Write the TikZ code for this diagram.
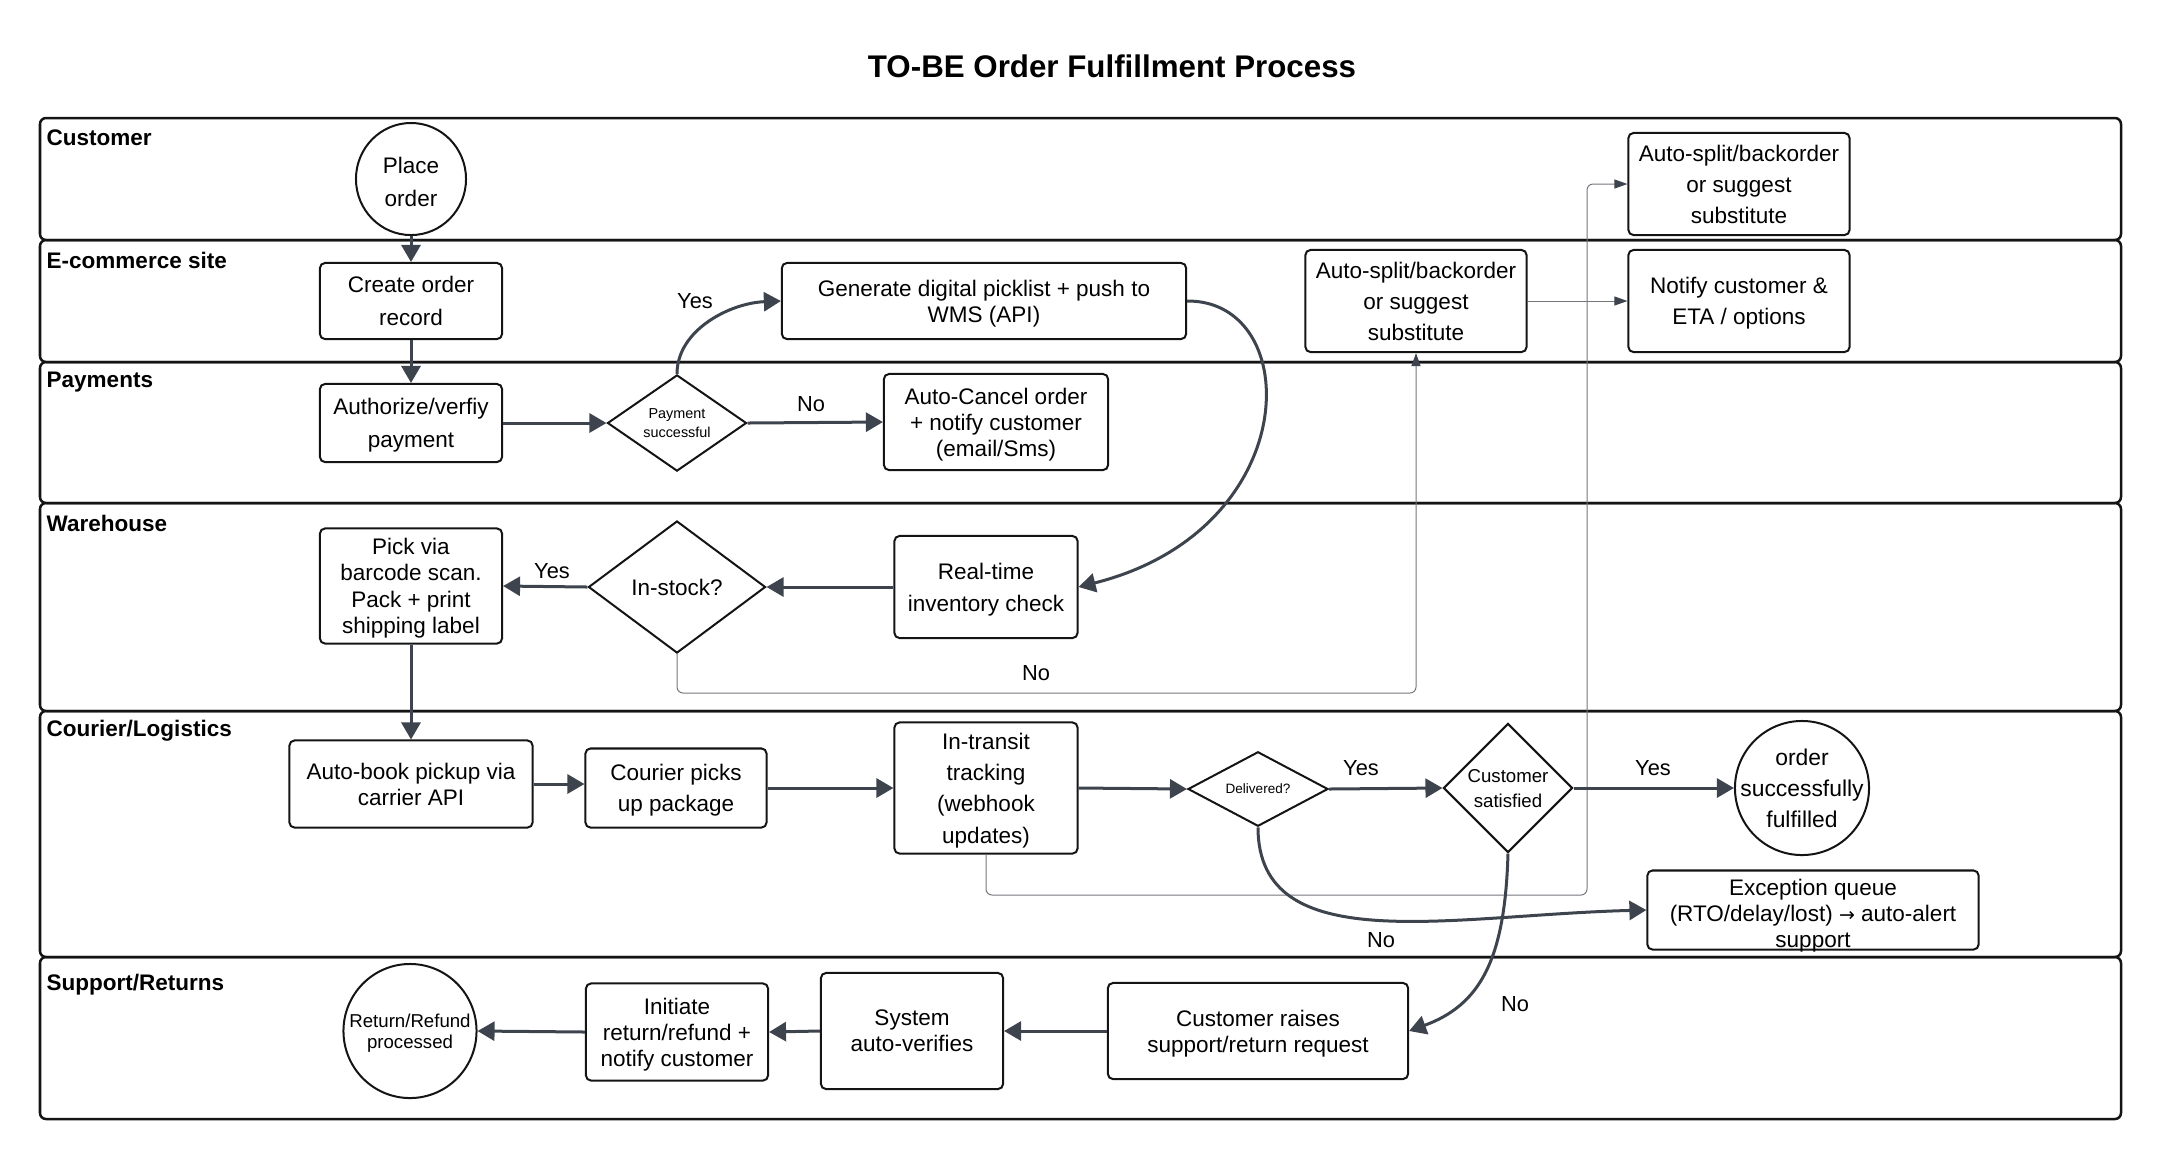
\documentclass[tikz,border=0pt]{standalone}
\usepackage{fontspec}
\setmainfont{Liberation Sans}
\newfontfamily\symf{DejaVu Sans}
\usetikzlibrary{arrows.meta,shapes.geometric}
\newcommand\fsz[2]{\fontsize{#1}{#2}\selectfont}
\definecolor{arrc}{RGB}{62,68,78}
\definecolor{thinc}{RGB}{115,118,124}
\definecolor{edgec}{RGB}{20,20,20}
\tikzset{
  box/.style={draw=edgec, line width=0.02cm, rounded corners=0.05cm, align=center, inner sep=0pt, fill=white, text depth=-1.5pt},
  lane/.style={draw=edgec, line width=0.025cm, rounded corners=0.06cm},
  arr/.style={draw=arrc, line width=0.03cm, -{Triangle[length=0.17cm,width=0.19cm]}},
  tarr/.style={draw=thinc, line width=0.01cm, rounded corners=0.06cm, -{Triangle[length=0.13cm,width=0.09cm,color=arrc]}},
  dia/.style={diamond, draw=edgec, line width=0.02cm, inner sep=0pt, align=center, fill=white, text depth=-1pt},
  ell/.style={ellipse, draw=edgec, line width=0.02cm, inner sep=0pt, fill=white},
  lbl/.style={font=\fsz{6.2}{7}, inner sep=1pt},
  lanelbl/.style={font=\bfseries\fsz{6.4}{7.4}, anchor=west, inner sep=0pt},
  txt/.style={align=center, inner sep=0pt, text depth=-1.5pt}
}
\begin{document}
\begin{tikzpicture}[x=0.01cm, y=-0.01cm]
\useasboundingbox (0,0) rectangle (2162,1159);

% title
\node[font=\bfseries\fsz{8.9}{10}] (title) at (1112,66) {TO-BE Order Fulfillment Process};

% lanes
\draw[lane] (40,118) rectangle (2121,240);
\draw[lane] (40,240) rectangle (2121,362);
\draw[lane] (40,362) rectangle (2121,503);
\draw[lane] (40,503) rectangle (2121,711);
\draw[lane] (40,711) rectangle (2121,957);
\draw[lane] (40,957) rectangle (2121,1119);
\node[lanelbl] (l1) at (46,138) {Customer};
\node[lanelbl] (l2) at (46,260) {E-commerce site};
\node[lanelbl] (l3) at (46,382) {Payments};
\node[lanelbl] (l4) at (46,523) {Warehouse};
\node[lanelbl] (l5) at (46,731) {Courier/Logistics};
\node[lanelbl] (l6) at (46,985) {Support/Returns};

% nodes
\node[ell, minimum width=1.10cm, minimum height=1.12cm] (place) at (411,179) {};
\node[txt, font=\fsz{6.4}{9.4}] (placet) at (411,182) {Place\\order};
\node[box, minimum width=1.82cm, minimum height=0.76cm, font=\fsz{6.4}{9.4}] (create) at (411,301) {Create order\\record};
\node[box, minimum width=1.82cm, minimum height=0.78cm, font=\fsz{6.4}{9.2}] (auth) at (411,423) {Authorize/verfiy\\payment};
\node[dia, minimum width=1.39cm, minimum height=0.74cm, font=\fsz{4.1}{5.4}] (pay) at (677,423) {Payment\\successful};
\node[box, minimum width=4.04cm, minimum height=0.76cm, font=\fsz{6.4}{7.4}] (gen) at (984,301) {Generate digital picklist + push to\\WMS (API)};
\node[box, minimum width=2.24cm, minimum height=0.96cm, font=\fsz{6.4}{7.4}] (cancel) at (996,422) {Auto-Cancel order\\+ notify customer\\(email/Sms)};
\node[box, minimum width=2.21cm, minimum height=1.02cm, font=\fsz{6.4}{8.8}] (splitb) at (1416,301) {Auto-split/backorder\\or suggest\\substitute};
\node[box, minimum width=2.21cm, minimum height=1.02cm, font=\fsz{6.4}{8.8}] (splita) at (1739,184) {Auto-split/backorder\\or suggest\\substitute};
\node[box, minimum width=2.21cm, minimum height=1.02cm, font=\fsz{6.4}{8.8}] (notify) at (1739,301) {Notify customer \&\\ETA / options};
\node[box, minimum width=1.83cm, minimum height=1.02cm, font=\fsz{6.4}{9}] (rt) at (986,587) {Real-time\\inventory check};
\node[dia, minimum width=1.77cm, minimum height=1.32cm, font=\fsz{6.4}{7.4}] (stock) at (677,587) {In-stock?};
\node[box, minimum width=1.82cm, minimum height=1.15cm, font=\fsz{6.4}{7.5}] (pick) at (411,586) {Pick via\\barcode scan.\\Pack + print\\shipping label};
\node[box, minimum width=2.43cm, minimum height=0.87cm, font=\fsz{6.4}{7.4}] (book) at (411,784) {Auto-book pickup via\\carrier API};
\node[box, minimum width=1.81cm, minimum height=0.79cm, font=\fsz{6.4}{8.8}] (cpick) at (676,788) {Courier picks\\up package};
\node[box, minimum width=1.83cm, minimum height=1.31cm, font=\fsz{6.4}{8.9}] (transit) at (986,788) {In-transit\\tracking\\(webhook\\updates)};
\node[dia, minimum width=1.40cm, minimum height=0.74cm, font=\fsz{3.85}{5}] (deliv) at (1258,789) {Delivered?};
\node[dia, minimum width=1.29cm, minimum height=1.29cm, font=\fsz{5.3}{7.1}, text depth=-2.5pt] (sat) at (1508,788) {Customer\\satisfied};
\node[ell, minimum width=1.34cm, minimum height=1.34cm] (done) at (1802,788) {};
\node[txt, font=\fsz{6.5}{8.8}] (donet) at (done) {order\\successfully\\fulfilled};
\node[box, minimum width=3.31cm, minimum height=0.79cm] (exc) at (1813,910) {};
\node[txt, font=\fsz{6.4}{7.4}] (exct) at (1813,913) {Exception queue\\(RTO/delay/lost) {\symf\fsz{5.4}{7.4}→} auto-alert\\support};
\node[box, minimum width=3.00cm, minimum height=0.96cm, font=\fsz{6.4}{7.4}] (raise) at (1258,1031) {Customer raises\\support/return request};
\node[box, minimum width=1.82cm, minimum height=1.16cm, font=\fsz{6.4}{7.4}] (verify) at (912,1031) {System\\auto-verifies};
\node[box, minimum width=1.82cm, minimum height=0.97cm, font=\fsz{6.4}{7.4}] (init) at (677,1032) {Initiate\\return/refund +\\notify customer};
\node[ell, minimum width=1.33cm, minimum height=1.34cm] (ret) at (410,1031) {};
\node[txt, font=\fsz{5.3}{6}] (rett) at (ret) {Return/Refund\\processed};

% thin connectors
\coordinate (nob) at (1000,693);
\draw[tarr] (stock.south) |- (nob) -| (splitb.south);
\coordinate (trb) at (1587,895);
\draw[tarr] (transit.south) |- (trb) |- (splita.west);
\draw[tarr] (splitb.east) -- (notify.west);

% thick connectors
\draw[arr] (place.south) -- (create.north);
\draw[arr] (create.south) -- (auth.north);
\draw[arr] (auth.east) -- (pay.west);
\draw[arr] (pay.north) .. controls (677,330) and (730,303) .. (gen.west);
\draw[arr] (pay.east) -- (cancel.west);
\draw[arr] (gen.east) .. controls (1305,300) and (1305,530) .. (rt.east);
\draw[arr] (rt.west) -- (stock.east);
\draw[arr] (stock.west) -- (pick.east);
\draw[arr] (pick.south) -- (book.north);
\draw[arr] (book.east) -- (book.east -| cpick.west);
\draw[arr] (cpick.east) -- (transit.west);
\draw[arr] (transit.east) -- (deliv.west);
\draw[arr] (deliv.east) -- (sat.west);
\draw[arr] (sat.east) -- (done.west);
\draw[arr] (deliv.south) .. controls (1258,960) and (1450,915) .. (exc.west);
\draw[arr] (sat.south) .. controls (1505,960) and (1480,1005) .. (raise.east);
\draw[arr] (raise.west) -- (verify.east);
\draw[arr] (verify.west) -- (init.east);
\draw[arr] (init.west) -- (ret.east);

% labels
\node[lbl] (y1) at (695,301) {Yes};
\node[lbl] (n1) at (811,404) {No};
\node[lbl] (y2) at (552,571) {Yes};
\node[lbl] (n2) at (1036,673) {No};
\node[lbl] (y3) at (1361,768) {Yes};
\node[lbl] (y4) at (1653,768) {Yes};
\node[lbl] (n3) at (1381,940) {No};
\node[lbl] (n4) at (1515,1004) {No};
\end{tikzpicture}
\end{document}
